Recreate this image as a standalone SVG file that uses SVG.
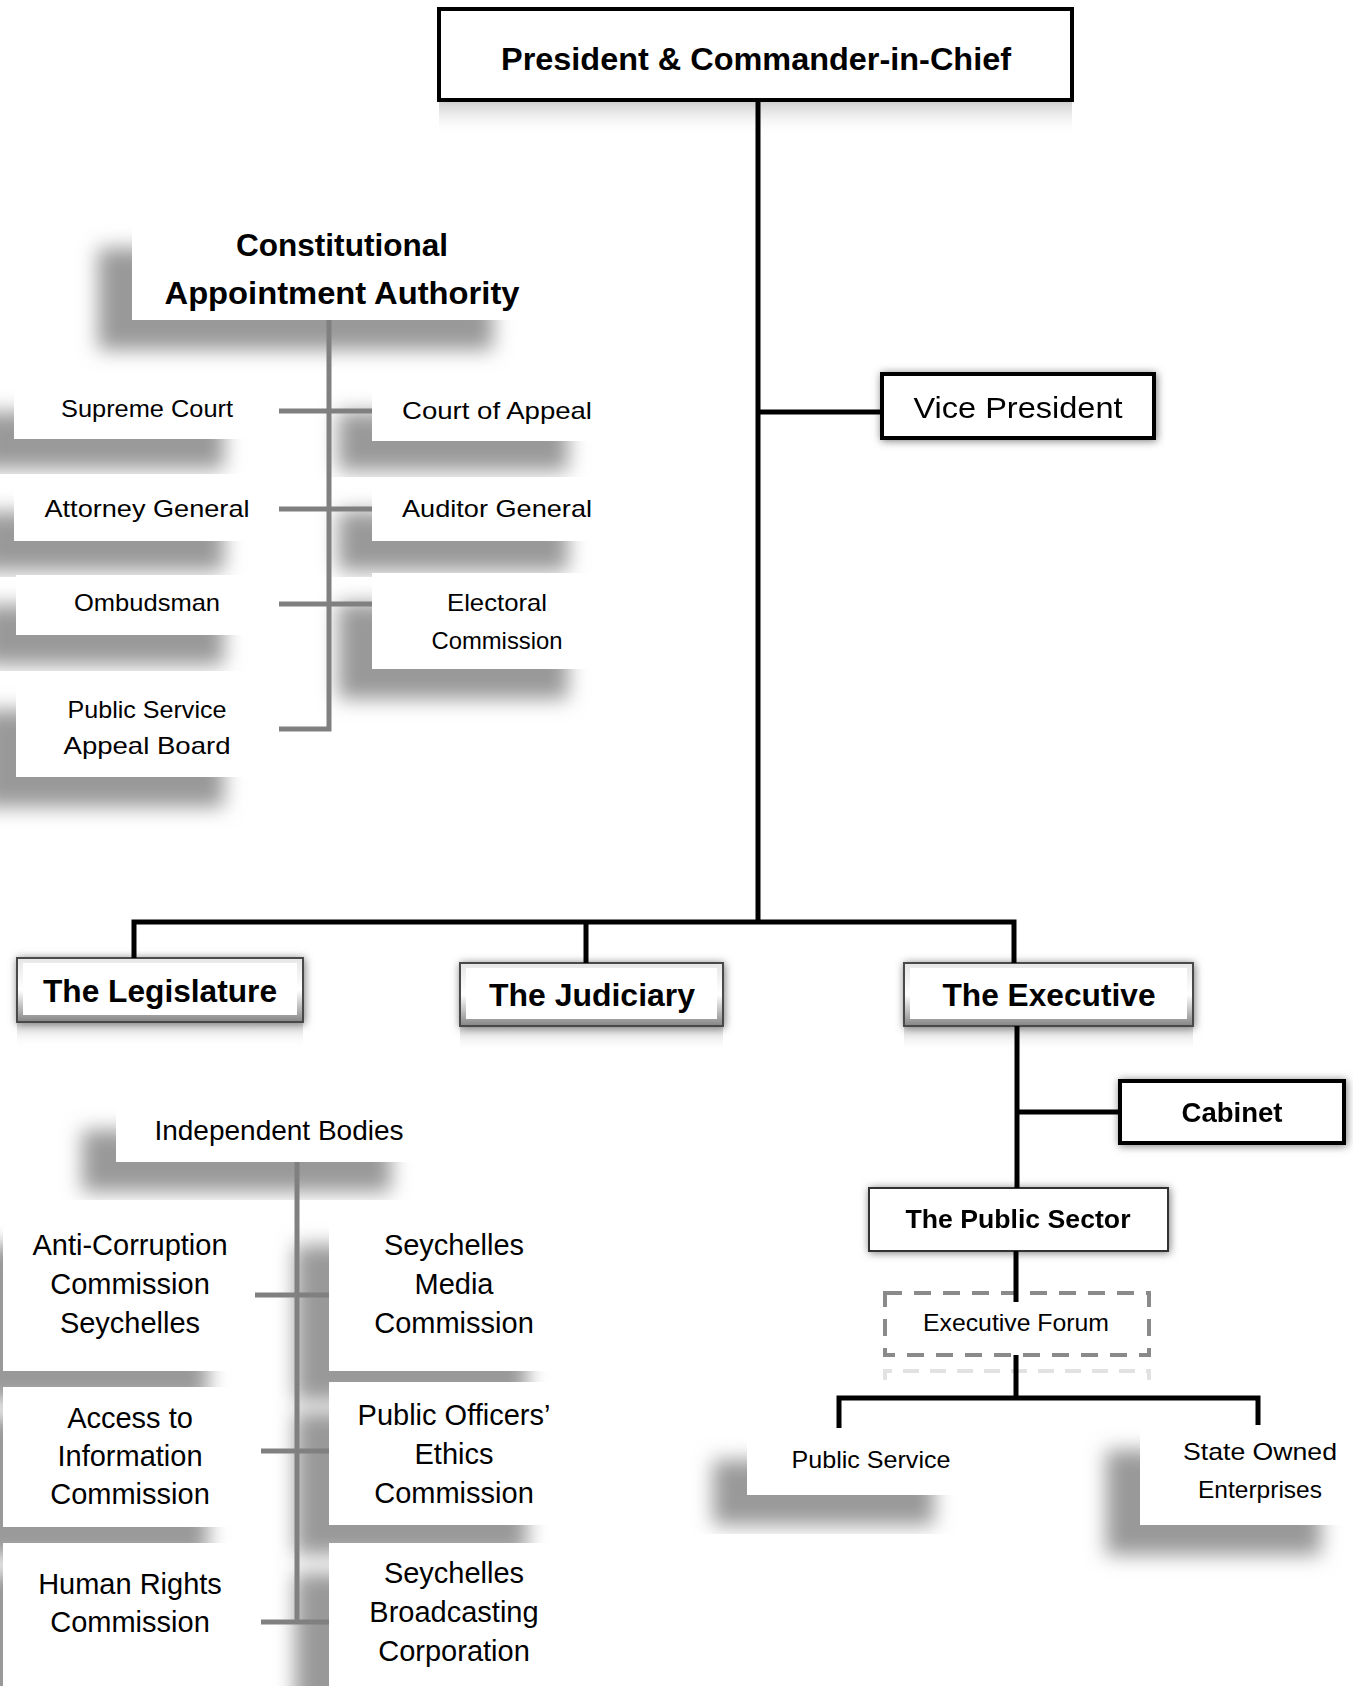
<svg xmlns="http://www.w3.org/2000/svg" width="1353" height="1686" viewBox="0 0 1353 1686">
<style>
.t{font-family:"Liberation Sans",Arial,sans-serif;fill:#000;text-anchor:middle}
.b{font-weight:bold}
.a{font-family:"Liberation Sans",Arial,sans-serif;font-size:29px;fill:#000;text-anchor:middle}
.box{fill:#fff;stroke:#000;stroke-width:4}
.plain{fill:#fff}
.k{stroke:#000;stroke-width:5;fill:none}
.g{stroke:#808080;stroke-width:5;fill:none}
.bevo{fill:url(#bev);stroke:#4a4a4a;stroke-width:2}
.bevi{fill:#fff}
.refl{fill:url(#refl)}
</style>
<defs>
<filter id="sh" x="-40%" y="-40%" width="180%" height="200%">
<feGaussianBlur in="SourceAlpha" stdDeviation="10"/>
<feOffset dx="-34" dy="30" result="b"/>
<feFlood flood-color="#999999"/>
<feComposite in2="b" operator="in"/>
<feMerge><feMergeNode/><feMergeNode in="SourceGraphic"/></feMerge>
</filter>
<filter id="glow" x="-20%" y="-40%" width="140%" height="180%">
<feGaussianBlur in="SourceAlpha" stdDeviation="4"/>
<feOffset dx="1" dy="1" result="b"/>
<feFlood flood-color="#7a7a7a"/>
<feComposite in2="b" operator="in"/>
<feMerge><feMergeNode/><feMergeNode in="SourceGraphic"/></feMerge>
</filter>
<linearGradient id="bev" x1="0" y1="0" x2="0" y2="1">
<stop offset="0" stop-color="#e6e6e6"/>
<stop offset="0.5" stop-color="#ffffff"/>
<stop offset="1" stop-color="#858585"/>
</linearGradient>
<linearGradient id="refl" x1="0" y1="0" x2="0" y2="1">
<stop offset="0" stop-color="#c4c4c4" stop-opacity="0.9"/>
<stop offset="1" stop-color="#ffffff" stop-opacity="0"/>
</linearGradient>
</defs>

<!-- Top -->
<g id="president">
<rect class="refl" x="439" y="100" width="633" height="36"/>
<rect class="box" x="439" y="9" width="633" height="91"/>
<text class="t b" x="756" y="70" font-size="32" textLength="510" lengthAdjust="spacingAndGlyphs">President &amp; Commander-in-Chief</text>
</g>
<g id="vice-president" filter="url(#glow)">
<rect class="box" x="882" y="374" width="272" height="64"/>
<text class="t" x="1018" y="418" font-size="30" textLength="209" lengthAdjust="spacingAndGlyphs">Vice President</text>
</g>

<!-- Constitutional Appointment Authority -->
<g id="caa" filter="url(#sh)">
<rect class="plain" x="132" y="218" width="395" height="102"/>
</g>
<g id="caa-label">
<text class="t b" x="342" y="256" font-size="32" textLength="212" lengthAdjust="spacingAndGlyphs">Constitutional</text>
<text class="t b" x="342" y="304" font-size="32" textLength="355" lengthAdjust="spacingAndGlyphs">Appointment Authority</text>
</g>
<g id="supreme-court" filter="url(#sh)"><rect class="plain" x="14" y="382" width="244" height="57"/></g>
<g id="court-of-appeal" filter="url(#sh)"><rect class="plain" x="372" y="382" width="230" height="59"/></g>
<g id="attorney-general" filter="url(#sh)"><rect class="plain" x="14" y="482" width="244" height="59"/></g>
<g id="auditor-general" filter="url(#sh)"><rect class="plain" x="372" y="481" width="230" height="60"/></g>
<g id="ombudsman" filter="url(#sh)"><rect class="plain" x="16" y="575" width="242" height="60"/></g>
<g id="electoral-commission" filter="url(#sh)"><rect class="plain" x="372" y="573" width="230" height="96"/></g>
<g id="psab" filter="url(#sh)"><rect class="plain" x="16" y="680" width="242" height="97"/></g>
<g id="caa-texts">
<text class="t" x="147" y="417" font-size="24" textLength="172" lengthAdjust="spacingAndGlyphs">Supreme Court</text>
<text class="t" x="497" y="419" font-size="24" textLength="190" lengthAdjust="spacingAndGlyphs">Court of Appeal</text>
<text class="t" x="147" y="517" font-size="24" textLength="205" lengthAdjust="spacingAndGlyphs">Attorney General</text>
<text class="t" x="497" y="517" font-size="24" textLength="190" lengthAdjust="spacingAndGlyphs">Auditor General</text>
<text class="t" x="147" y="611" font-size="24" textLength="146" lengthAdjust="spacingAndGlyphs">Ombudsman</text>
<text class="t" x="497" y="611" font-size="24" textLength="100" lengthAdjust="spacingAndGlyphs">Electoral</text>
<text class="t" x="497" y="649" font-size="24" textLength="131" lengthAdjust="spacingAndGlyphs">Commission</text>
<text class="t" x="147" y="718" font-size="24" textLength="159" lengthAdjust="spacingAndGlyphs">Public Service</text>
<text class="t" x="147" y="754" font-size="24" textLength="167" lengthAdjust="spacingAndGlyphs">Appeal Board</text>
</g>

<!-- Branches -->
<g id="legislature">
<rect class="refl" x="17" y="1022" width="286" height="26"/>
<g filter="url(#glow)"><rect class="bevo" x="17" y="958" width="286" height="64"/></g>
<rect class="bevi" x="23" y="963" width="274" height="52"/>
<text class="t b" x="160" y="1002" font-size="31" textLength="234" lengthAdjust="spacingAndGlyphs">The Legislature</text>
</g>
<g id="judiciary">
<rect class="refl" x="460" y="1026" width="263" height="26"/>
<g filter="url(#glow)"><rect class="bevo" x="460" y="963" width="263" height="63"/></g>
<rect class="bevi" x="466" y="968" width="251" height="51"/>
<text class="t b" x="592" y="1006" font-size="31" textLength="206" lengthAdjust="spacingAndGlyphs">The Judiciary</text>
</g>
<g id="executive">
<rect class="refl" x="904" y="1026" width="289" height="26"/>
<g filter="url(#glow)"><rect class="bevo" x="904" y="963" width="289" height="63"/></g>
<rect class="bevi" x="910" y="968" width="277" height="51"/>
<text class="t b" x="1049" y="1006" font-size="31" textLength="213" lengthAdjust="spacingAndGlyphs">The Executive</text>
</g>
<g id="cabinet" filter="url(#glow)">
<rect class="box" x="1120" y="1081" width="224" height="62"/>
<text class="t b" x="1232" y="1122" font-size="27" textLength="101" lengthAdjust="spacingAndGlyphs">Cabinet</text>
</g>
<g id="public-sector" filter="url(#glow)">
<rect fill="#fff" stroke="#333" stroke-width="2" x="869" y="1188" width="299" height="63"/>
<text class="t b" x="1018" y="1228" font-size="26" textLength="225" lengthAdjust="spacingAndGlyphs">The Public Sector</text>
</g>
<g id="executive-forum">
<path d="M885 1380 V1371 H1149 V1380" fill="none" stroke="#e2e2e2" stroke-width="4" stroke-dasharray="16 11"/>
<rect x="885" y="1293" width="264" height="62" fill="#fff" stroke="#8a8a8a" stroke-width="4" stroke-dasharray="17 12"/>
<text class="t" x="1016" y="1331" font-size="24" textLength="186" lengthAdjust="spacingAndGlyphs">Executive Forum</text>
</g>
<g id="public-service" filter="url(#sh)"><rect class="plain" x="747" y="1430" width="221" height="65"/></g>
<g id="state-owned" filter="url(#sh)"><rect class="plain" x="1140" y="1420" width="215" height="105"/></g>
<g id="ps-texts">
<text class="t" x="871" y="1468" font-size="24" textLength="159" lengthAdjust="spacingAndGlyphs">Public Service</text>
<text class="t" x="1260" y="1460" font-size="24" textLength="154" lengthAdjust="spacingAndGlyphs">State Owned</text>
<text class="t" x="1260" y="1498" font-size="24" textLength="124" lengthAdjust="spacingAndGlyphs">Enterprises</text>
</g>

<!-- Independent Bodies -->
<g id="independent-bodies" filter="url(#sh)"><rect class="plain" x="116" y="1100" width="309" height="62"/></g>
<text class="a" x="279" y="1140" style="font-size:28px">Independent Bodies</text>
<g id="anti-corruption" filter="url(#sh)"><rect class="plain" x="3" y="1215" width="239" height="156"/></g>
<g id="media-commission" filter="url(#sh)"><rect class="plain" x="329" y="1215" width="232" height="156"/></g>
<g id="access-info" filter="url(#sh)"><rect class="plain" x="3" y="1387" width="239" height="140"/></g>
<g id="ethics-commission" filter="url(#sh)"><rect class="plain" x="329" y="1382" width="232" height="143"/></g>
<g id="human-rights" filter="url(#sh)"><rect class="plain" x="3" y="1543" width="239" height="160"/></g>
<g id="broadcasting" filter="url(#sh)"><rect class="plain" x="329" y="1543" width="232" height="160"/></g>
<g id="ib-texts">
<text class="a" x="130" y="1255">Anti-Corruption</text>
<text class="a" x="130" y="1294">Commission</text>
<text class="a" x="130" y="1333">Seychelles</text>
<text class="a" x="454" y="1255">Seychelles</text>
<text class="a" x="454" y="1294">Media</text>
<text class="a" x="454" y="1333">Commission</text>
<text class="a" x="130" y="1428">Access to</text>
<text class="a" x="130" y="1466">Information</text>
<text class="a" x="130" y="1504">Commission</text>
<text class="a" x="454" y="1425">Public Officers’</text>
<text class="a" x="454" y="1464">Ethics</text>
<text class="a" x="454" y="1503">Commission</text>
<text class="a" x="130" y="1594">Human Rights</text>
<text class="a" x="130" y="1632">Commission</text>
<text class="a" x="454" y="1583">Seychelles</text>
<text class="a" x="454" y="1622">Broadcasting</text>
<text class="a" x="454" y="1661">Corporation</text>
</g>

<!-- Connectors -->
<g id="connectors">
<path class="k" d="M758 100 V922"/>
<path class="k" d="M758 412 H882"/>
<path class="k" d="M134 958 V922 H1014 V963"/>
<path class="k" d="M586 922 V963"/>
<path class="k" d="M1017 1026 V1188"/>
<path class="k" d="M1017 1112 H1120"/>
<path class="k" d="M1016 1251 V1302"/>
<path class="k" d="M1016 1355 V1398"/>
<path class="k" d="M839 1428 V1398 H1258 V1425"/>
<path class="g" d="M329 320 V729 H279"/>
<path class="g" d="M279 411 H372 M279 509 H372 M279 604 H372"/>
<path class="g" d="M297 1162 V1622"/>
<path class="g" d="M255 1295 H329 M261 1451 H329 M261 1622 H329"/>
</g>
</svg>
